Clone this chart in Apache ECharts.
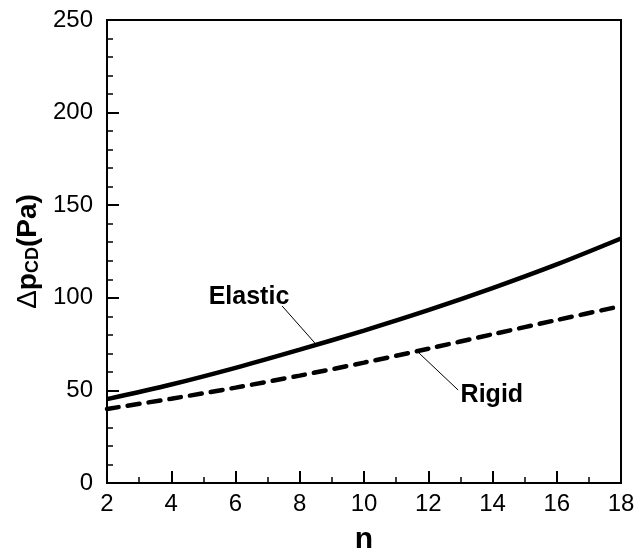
<!DOCTYPE html>
<html>
<head>
<meta charset="utf-8">
<script src="https://cdn.jsdelivr.net/npm/echarts@6/dist/echarts.min.js"></script>
<style>html,body{margin:0;padding:0;background:#fff;}#c{width:637px;height:554px;}</style>
</head>
<body>
<div id="c"></div>
<script>
var nValues = [2, 4, 6, 8, 10, 12, 14, 16, 18];
var elastic = [45.3, 53.2, 62.2, 72, 82.3, 93.3, 105.2, 118, 132];
var rigid = [40, 45.5, 51.5, 58, 65, 72.5, 80.3, 88, 95.5];
var elasticLabelPos = [6.42, 100.4];
var elasticLeader = [[7.45, 95.6], [8.47, 75.6]];
var rigidLabelPos = [13.98, 47.5];
var rigidLeader = [[11.68, 70.7], [12.93, 50.2]];

function pairs(xs, ys) { return xs.map(function (x, i) { return [x, ys[i]]; }); }

var chart = echarts.init(document.getElementById('c'), null, {renderer: 'canvas'});
var font = 'Liberation Sans, Arial, sans-serif';
chart.setOption({
  animation: false,
  backgroundColor: '#fff',
  grid: {left: 107, top: 20, right: 16, bottom: 71, containLabel: false, outerBoundsMode: 'none',
         show: true, borderColor: '#000', borderWidth: 2, backgroundColor: 'transparent'},
  xAxis: {
    type: 'value', min: 2, max: 18, interval: 2,
    name: 'n', nameLocation: 'middle', nameGap: 42,
    nameTextStyle: {fontFamily: font, fontSize: 30, fontWeight: 'bold', color: '#000'},
    axisLine: {show: true, lineStyle: {color: '#000', width: 2}},
    axisTick: {show: true, inside: true, length: 12, lineStyle: {color: '#000', width: 2}},
    minorTick: {show: true, splitNumber: 2, length: 6, lineStyle: {color: '#000', width: 1.5}},
    axisLabel: {fontFamily: font, fontSize: 24, color: '#000', margin: 9},
    splitLine: {show: false}
  },
  yAxis: {
    type: 'value', min: 0, max: 250, interval: 50,
    name: '{d|Δ}{p|p}{s|CD}{p|(Pa)}', nameLocation: 'middle', nameGap: 64, nameRotate: 90,
    nameTextStyle: {
      fontFamily: font, color: '#000',
      rich: {
        d: {fontFamily: font, fontSize: 28, color: '#000', verticalAlign: 'bottom', lineHeight: 34},
        p: {fontFamily: font, fontSize: 28, fontWeight: 'bold', color: '#000', verticalAlign: 'bottom', lineHeight: 34},
        s: {fontFamily: font, fontSize: 18, fontWeight: 'bold', color: '#000', verticalAlign: 'bottom', lineHeight: 24}
      }
    },
    axisLine: {show: true, lineStyle: {color: '#000', width: 2}},
    axisTick: {show: true, inside: true, length: 12, lineStyle: {color: '#000', width: 2}},
    minorTick: {show: true, splitNumber: 5, length: 6, lineStyle: {color: '#000', width: 1.5}},
    axisLabel: {fontFamily: font, fontSize: 24, color: '#000', margin: 14},
    splitLine: {show: false}
  },
  series: [
    {
      name: 'Elastic', type: 'line', data: pairs(nValues, elastic), smooth: 0.3,
      showSymbol: false, symbol: 'none',
      lineStyle: {color: '#000', width: 4.5},
      markLine: {
        silent: true, symbol: ['none', 'none'], label: {show: false},
        lineStyle: {color: '#000', width: 1, type: 'solid'},
        data: [[{coord: elasticLeader[0]}, {coord: elasticLeader[1]}]]
      },
      markPoint: {
        symbol: 'circle', symbolSize: 1, itemStyle: {color: 'rgba(0,0,0,0)'},
        label: {show: true, position: 'inside', formatter: 'Elastic', fontFamily: font, fontSize: 25, fontWeight: 'bold', color: '#000'},
        data: [{coord: elasticLabelPos}]
      }
    },
    {
      name: 'Rigid', type: 'line', data: pairs(nValues, rigid), smooth: 0.3,
      showSymbol: false, symbol: 'none',
      lineStyle: {color: '#000', width: 4.5, type: [12, 9], cap: 'round'},
      markLine: {
        silent: true, symbol: ['none', 'none'], label: {show: false},
        lineStyle: {color: '#000', width: 1, type: 'solid'},
        data: [[{coord: rigidLeader[0]}, {coord: rigidLeader[1]}]]
      },
      markPoint: {
        symbol: 'circle', symbolSize: 1, itemStyle: {color: 'rgba(0,0,0,0)'},
        label: {show: true, position: 'inside', formatter: 'Rigid', fontFamily: font, fontSize: 25, fontWeight: 'bold', color: '#000'},
        data: [{coord: rigidLabelPos}]
      }
    }
  ]
});
</script>
</body>
</html>
